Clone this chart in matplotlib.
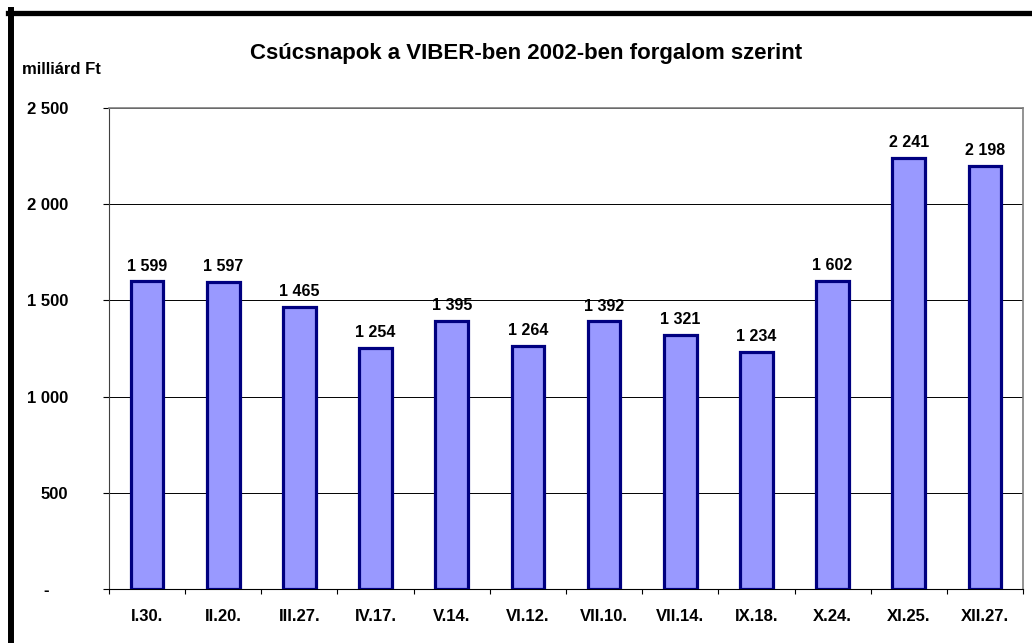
import matplotlib.pyplot as plt
from matplotlib.lines import Line2D
import numpy as np

plt.rcParams['font.family'] = ['Liberation Sans', 'DejaVu Sans']

# Adatok
napok = ["I.30.", "II.20.", "III.27.", "IV.17.", "V.14.", "VI.12.",
         "VII.10.", "VII.14.", "IX.18.", "X.24.", "XI.25.", "XII.27."]
forgalom = [1599, 1597, 1465, 1254, 1395, 1264, 1392, 1321, 1234, 1602, 2241, 2198]
y_ticks = [0, 500, 1000, 1500, 2000, 2500]


def fmt(v):
    if v == 0:
        return "-    "
    return f"{v:,}".replace(",", " ")


W, H = 1032, 643
fig = plt.figure(figsize=(W / 100, H / 100), dpi=100)
ax = fig.add_axes([109 / W, 1 - 589 / H, (1023 - 109) / W, (589 - 108) / H])

x = np.arange(len(napok))
ax.bar(x, forgalom, width=0.43, color="#9999FF", edgecolor="#000080",
       linewidth=2.3, zorder=3)

# Értékcímkék
for xi, v in zip(x, forgalom):
    ax.annotate(fmt(v), (xi, v), xytext=(0, 5.5), textcoords="offset points",
                ha="center", va="bottom", fontsize=11.5, fontweight="bold")

ax.set_xlim(-0.5, len(napok) - 0.5)
ax.set_ylim(0, 2500)

ax.set_yticks(y_ticks)
ax.set_yticklabels([fmt(v) for v in y_ticks], fontsize=12, fontweight="bold")
ax.tick_params(axis="y", direction="out", length=4.3, width=0.8, pad=25)

ax.set_xticks(x)
ax.set_xticklabels(napok, fontsize=12, fontweight="bold")
ax.set_xticks(np.arange(-0.5, len(napok)), minor=True)
ax.tick_params(axis="x", which="major", length=0, pad=14.5)
ax.tick_params(axis="x", which="minor", direction="out", length=3.5, width=0.8)

ax.grid(axis="y", color="black", linewidth=0.7, zorder=0)
ax.set_axisbelow(True)

ax.spines["top"].set_color("#808080")
ax.spines["right"].set_color("#808080")
ax.spines["top"].set_linewidth(1.2)
ax.spines["right"].set_linewidth(1.2)
ax.spines["left"].set_color("#404040")
ax.spines["bottom"].set_color("black")

fig.text(22 / W, 1 - 70 / H, "milliárd Ft", ha="left", va="center",
         fontsize=12, fontweight="bold")
fig.text(526 / W, 1 - 53 / H, "Csúcsnapok a VIBER-ben 2002-ben forgalom szerint",
         ha="center", va="center", fontsize=16, fontweight="bold")

# Fekete keret (bal és felső)
fig.add_artist(Line2D([8 / W, 1], [1 - 12.5 / H, 1 - 12.5 / H],
                      transform=fig.transFigure, color="black", linewidth=3.8))
fig.add_artist(Line2D([11 / W, 11 / W], [0, 1 - 10 / H],
                      transform=fig.transFigure, color="black", linewidth=4.3))

fig.savefig("out.png", dpi=100)
